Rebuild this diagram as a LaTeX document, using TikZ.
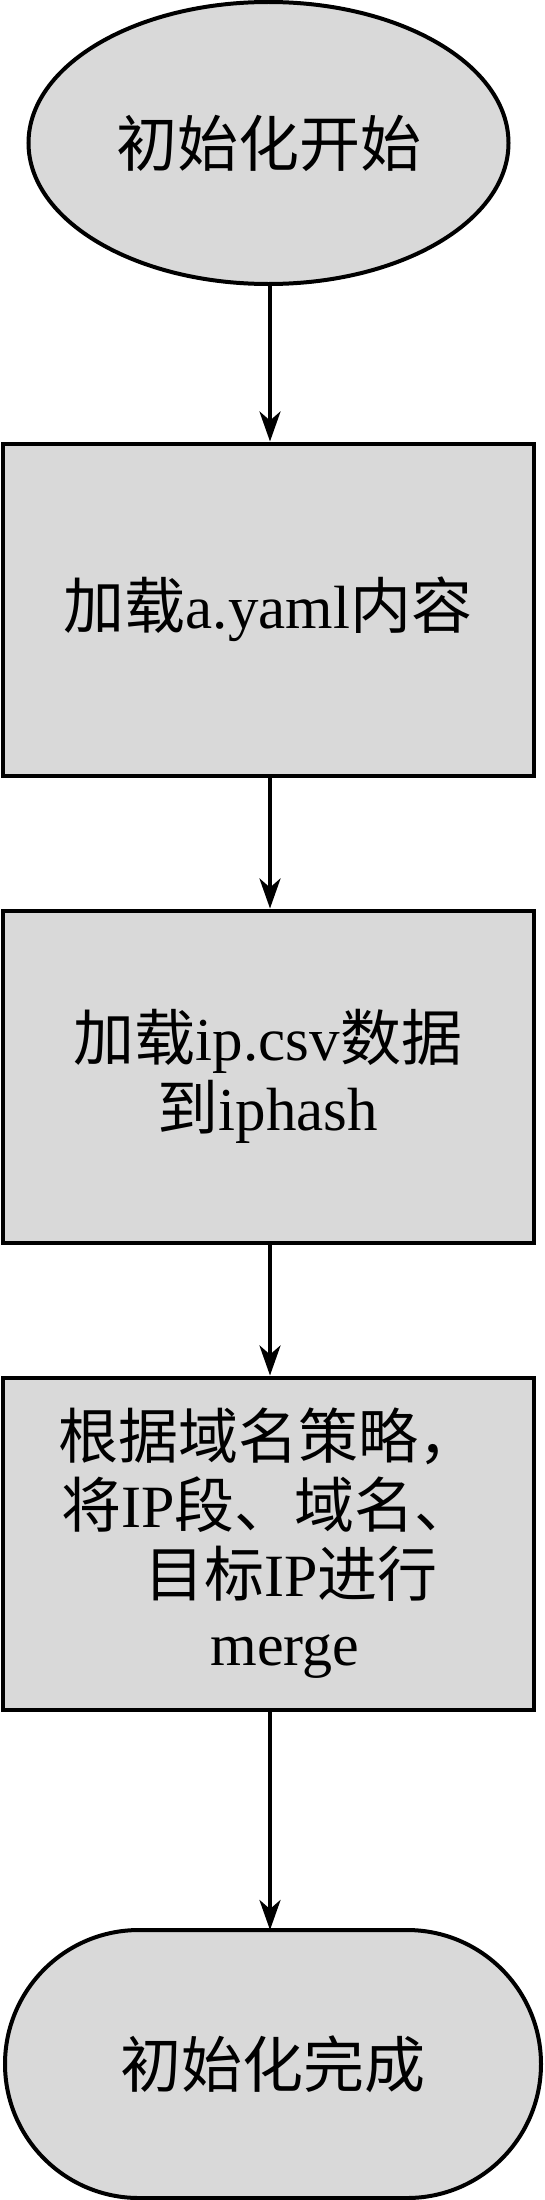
\documentclass[tikz,border=0pt]{standalone}
\usepackage{fontspec}
\setmainfont{Liberation Serif}
\newfontfamily\cjk{Noto Sans CJK SC}
\usetikzlibrary{shapes.geometric,arrows.meta}
\definecolor{boxgray}{RGB}{217,217,217}
\tikzset{
  shapebase/.style={draw=black, line width=4pt, fill=boxgray, inner sep=0pt, align=center,
    font=\fontsize{61}{70}\selectfont},
  startnode/.style={shapebase, ellipse, minimum width=480pt, minimum height=282pt},
  stepbox/.style={shapebase, rectangle, minimum width=531pt, minimum height=332pt},
  endnode/.style={shapebase, rectangle, rounded corners=134pt, minimum width=536pt, minimum height=268pt},
  flow/.style={line width=4pt, -{Stealth[length=30pt, width=21pt, inset=9pt]}}
}
\begin{document}
\begin{tikzpicture}[x=1pt,y=1pt]
\useasboundingbox (0,0) rectangle (544,-2200);
\node[startnode] (start) at (268.5,-143) {{\cjk 初始化开始}};
\node[stepbox] (b1) at (268,-609.5) {{\cjk 加载}a.yaml{\cjk 内容}};
\node[stepbox] (b2) at (268,-1076.5) {{\cjk 加载}ip.csv{\cjk 数据}\\{\cjk 到}iphash};
\node[stepbox, font=\fontsize{60}{69}\selectfont] (b3) at (268,-1543.5) {{\cjk 根据域名策略，}\\{\cjk 将}IP{\cjk 段、域名、}\\\hspace*{46pt}{\cjk 目标}IP{\cjk 进行}\\\hspace*{34pt}merge};
\node[endnode] (end) at (273,-2064) {{\cjk 初始化完成}};
\coordinate (endtop) at (270,-1930);
\draw[flow] (start.south -| endtop) -- (b1.north -| endtop);
\draw[flow] (b1.south -| endtop) -- (b2.north -| endtop);
\draw[flow] (b2.south -| endtop) -- (b3.north -| endtop);
\draw[flow] (b3.south -| endtop) -- (endtop);
\end{tikzpicture}
\end{document}
